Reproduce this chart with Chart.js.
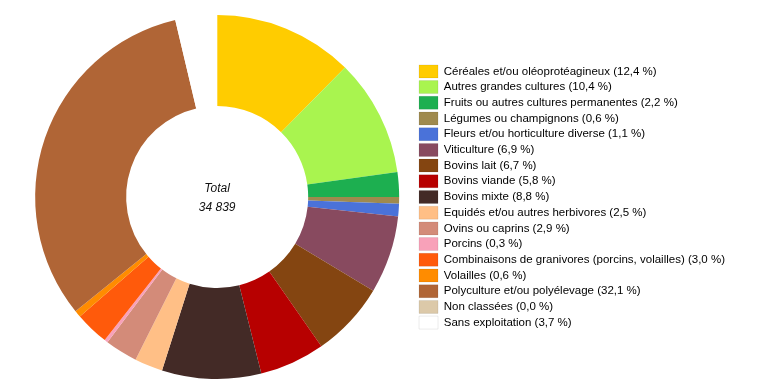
<!DOCTYPE html>
<html lang="fr">
<head>
    <meta charset="UTF-8">
    <title>Orientation technico-économique des exploitations</title>
    <script src="https://cdn.jsdelivr.net/npm/chart.js"></script>
    <style>
        body {
            margin: 0;
            background-color: #ffffff;
            font-family: Arial, "Liberation Sans", sans-serif;
        }
        #wrap {
            width: 760px;
            height: 391px;
        }
    </style>
</head>
<body>
<div id="wrap">
    <canvas id="otexChart" width="760" height="391"></canvas>
</div>
<script>
    // Catégories et parts (%)
    const categories = [
        'Céréales et/ou oléoprotéagineux',
        'Autres grandes cultures',
        'Fruits ou autres cultures permanentes',
        'Légumes ou champignons',
        'Fleurs et/ou horticulture diverse',
        'Viticulture',
        'Bovins lait',
        'Bovins viande',
        'Bovins mixte',
        'Equidés et/ou autres herbivores',
        'Ovins ou caprins',
        'Porcins',
        'Combinaisons de granivores (porcins, volailles)',
        'Volailles',
        'Polyculture et/ou polyélevage',
        'Non classées',
        'Sans exploitation'
    ];
    const shares = [12.4, 10.4, 2.2, 0.6, 1.1, 6.9, 6.7, 5.8, 8.8, 2.5, 2.9, 0.3, 3.0, 0.6, 32.1, 0.0, 3.7];
    const colors = [
        '#ffcc00', '#a9f44f', '#1daf50', '#9f8a4e', '#4a72d9', '#884a5f',
        '#844511', '#b70000', '#432a26', '#ffbf86', '#d38b79', '#f8a1b9',
        '#ff5a0b', '#ff8c00', '#b06536', '#dcc9a9', '#ffffff'
    ];
    const totalLabel = 'Total';
    const totalValue = '34 839';

    function fmtPct(v) {
        return v.toFixed(1).replace('.', ',') + ' %';
    }

    const centerText = {
        id: 'centerText',
        afterDraw(chart) {
            const meta = chart.getDatasetMeta(0);
            if (!meta.data.length) return;
            const arc = meta.data[0];
            const c = chart.ctx;
            c.save();
            c.font = 'italic 12px Arial, "Liberation Sans", sans-serif';
            c.fillStyle = '#111';
            c.textAlign = 'center';
            c.textBaseline = 'middle';
            c.fillText(totalLabel, arc.x, arc.y - 8);
            c.fillText(totalValue, arc.x, arc.y + 11);
            c.restore();
        }
    };

    const ctx = document.getElementById('otexChart').getContext('2d');
    new Chart(ctx, {
        type: 'doughnut',
        data: {
            labels: categories,
            datasets: [{
                data: shares,
                backgroundColor: colors,
                borderWidth: 0
            }]
        },
        options: {
            responsive: false,
            animation: false,
            cutout: '50%',
            layout: {
                padding: { left: 18, right: 25, top: 15, bottom: 12 }
            },
            plugins: {
                tooltip: { enabled: false },
                legend: {
                    position: 'right',
                    align: 'center',
                    labels: {
                        boxWidth: 19,
                        boxHeight: 13,
                        padding: 2.7,
                        color: '#111',
                        font: { size: 11.5, family: 'Arial, "Liberation Sans", sans-serif' },
                        generateLabels(chart) {
                            return chart.data.labels.map((lab, i) => ({
                                text: lab + ' (' + fmtPct(shares[i]) + ')',
                                fillStyle: colors[i],
                                strokeStyle: 'rgba(0,0,0,0.08)',
                                lineWidth: 1,
                                hidden: false,
                                index: i
                            }));
                        }
                    }
                }
            }
        },
        plugins: [centerText]
    });
</script>
</body>
</html>
